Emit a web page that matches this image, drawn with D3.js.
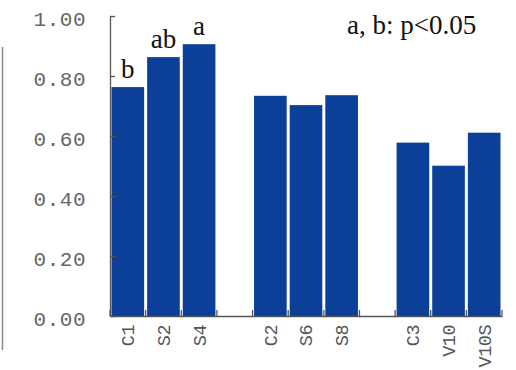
<!DOCTYPE html>
<html>
<head>
<meta charset="utf-8">
<script src="https://cdn.jsdelivr.net/npm/d3@7"></script>
<style>
  body { margin: 0; background: #fff; }
</style>
</head>
<body>
<div id="wrapper"></div>
<script>
// slots along the x axis, blank strings are the gaps between groups
const slots = ["C1", "S2", "S4", "", "C2", "S6", "S8", " ", "C3", "V10", "V10S"]
const categories = ["C1", "S2", "S4", "C2", "S6", "S8", "C3", "V10", "V10S"]
const values = [0.763, 0.863, 0.906, 0.734, 0.703, 0.736, 0.578, 0.501, 0.611]
const sigLetters = ["b", "ab", "a", "", "", "", "", "", ""]
const yTicks = [0, 0.2, 0.4, 0.6, 0.8, 1.0]

const dimensions = {
    width: 516,
    height: 370,
    margins: { top: 16, right: 14, bottom: 54, left: 110 }
}
dimensions.boundedWidth = dimensions.width - dimensions.margins.left - dimensions.margins.right
dimensions.boundedHeight = dimensions.height - dimensions.margins.top - dimensions.margins.bottom

const svg = d3.select("#wrapper")
    .append("svg")
        .attr("width", dimensions.width)
        .attr("height", dimensions.height)

// edge of the neighbouring panel, cut off at the left
svg.append("line")
    .attr("x1", 2.5).attr("x2", 2.5)
    .attr("y1", 47).attr("y2", 350)
    .attr("stroke", "#8a8a8a")
    .attr("stroke-width", 1.5)

const bounds = svg.append("g")
    .attr("transform", `translate(${dimensions.margins.left},${dimensions.margins.top})`)

// scales
const xScale = d3.scaleBand()
    .domain(slots)
    .range([0, dimensions.boundedWidth])
    .paddingInner(0)

const yScale = d3.scaleLinear()
    .domain([0, 1])
    .range([dimensions.boundedHeight, 0])

// bars
const barColor = "#0c3f98"
bounds.selectAll("rect.bar")
    .data(categories)
    .join("rect")
        .attr("class", "bar")
        .attr("x", d => xScale(d) + 1.5)
        .attr("width", xScale.bandwidth() - 3)
        .attr("y", (d, i) => yScale(values[i]))
        .attr("height", (d, i) => dimensions.boundedHeight - yScale(values[i]))
        .attr("fill", barColor)

// significance letters
bounds.selectAll("text.sig")
    .data(categories)
    .join("text")
        .attr("class", "sig")
        .attr("x", d => xScale(d) + xScale.bandwidth() / 2)
        .attr("y", (d, i) => yScale(values[i]) - 9)
        .attr("text-anchor", "middle")
        .style("font-family", "'Liberation Serif', 'Times New Roman', serif")
        .style("font-size", "27px")
        .attr("fill", "#111")
        .text((d, i) => sigLetters[i])

// y axis
const yAxisGenerator = d3.axisLeft(yScale)
    .tickValues(yTicks)
    .tickFormat(d3.format(".2f"))
    .tickSizeInner(-5)
    .tickSizeOuter(0)
    .tickPadding(24)

const yAxis = bounds.append("g").call(yAxisGenerator)
yAxis.select(".domain").attr("stroke", "#555").attr("stroke-width", 1.3)
yAxis.selectAll(".tick line").attr("stroke", "#555").attr("stroke-width", 1.3)
yAxis.selectAll(".tick text")
    .attr("dy", 9)
    .style("font-family", "'Liberation Mono', monospace")
    .style("font-size", "21px")
    .style("letter-spacing", "0.5px")
    .attr("fill", "#666")

// x axis
const xAxisGenerator = d3.axisBottom(xScale)
    .tickSize(0)
    .tickPadding(0)

const xAxis = bounds.append("g")
    .attr("transform", `translate(0,${dimensions.boundedHeight})`)
    .call(xAxisGenerator)
xAxis.select(".domain").attr("stroke", "#555").attr("stroke-width", 1.3)
xAxis.selectAll(".tick text")
    .attr("transform", "rotate(-90)")
    .attr("x", -9)
    .attr("y", 0)
    .attr("dy", "0.35em")
    .attr("text-anchor", "end")
    .style("font-family", "'Liberation Mono', monospace")
    .style("font-size", "18.5px")
    .style("letter-spacing", "-0.5px")
    .attr("fill", "#555")

// inward tick marks at the slot boundaries
const boundaries = slots.map(d => xScale(d)).concat([dimensions.boundedWidth])
xAxis.selectAll("line.sep")
    .data(boundaries)
    .join("line")
        .attr("class", "sep")
        .attr("x1", d => d).attr("x2", d => d)
        .attr("y1", 0).attr("y2", -6)
        .attr("stroke", "#555")
        .attr("stroke-width", 1.3)

// legend note
svg.append("text")
    .attr("x", 347)
    .attr("y", 34)
    .style("font-family", "'Liberation Serif', 'Times New Roman', serif")
    .style("font-size", "27px")
    .attr("fill", "#111")
    .text("a, b: p<0.05")
</script>
</body>
</html>
